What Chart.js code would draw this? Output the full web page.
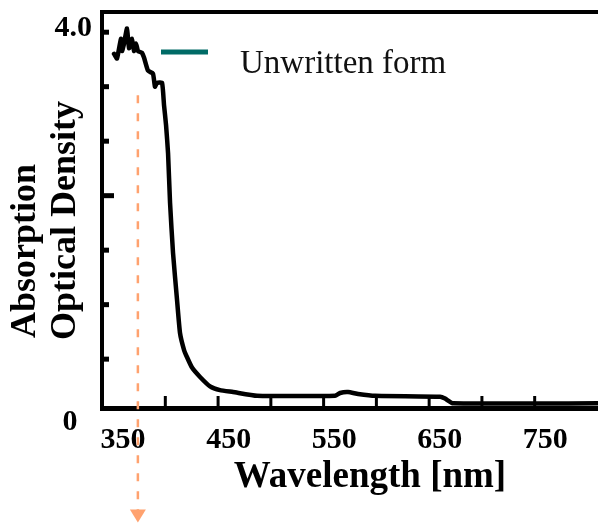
<!DOCTYPE html>
<html>
<head>
<meta charset="utf-8">
<script src="https://cdn.jsdelivr.net/npm/chart.js@4.4.1/dist/chart.umd.min.js"></script>
<style>
  html, body { margin: 0; padding: 0; background: #ffffff; }
  #wrap { width: 598px; height: 526px; }
</style>
</head>
<body>
<div id="wrap"><canvas id="chart" width="598" height="526"></canvas></div>
<script>
// Absorption spectrum (wavelength in nm, optical density)
const wavelengths = [341.4, 344.2, 348.0, 349.0, 350.9, 353.7, 355.6, 358.4, 360.3, 362.2,
  364.1, 367.9, 369.8, 373.6, 378.3, 380.2, 382.1, 386.9, 388.8, 390.7,
  392.6, 394.5, 397.3, 401.1, 403.9, 407.7, 410.6, 415.3, 422.9, 432.4,
  441.8, 454.2, 476.9, 550.9, 555.6, 563.2, 572.7, 588.8, 650.4, 655.1,
  662.7, 800.0];
const absorbance = [3.77, 3.72, 3.93, 3.80, 3.88, 4.04, 3.83, 3.93, 3.80, 3.88,
  3.80, 3.78, 3.73, 3.59, 3.56, 3.42, 3.46, 3.46, 3.22, 3.01,
  2.71, 2.18, 1.65, 1.15, 0.80, 0.62, 0.54, 0.43, 0.33, 0.23,
  0.19, 0.17, 0.13, 0.13, 0.16, 0.17, 0.15, 0.13, 0.12, 0.10,
  0.05, 0.05];

const seriesLabel = 'Unwritten form';
const xTickLabels = [350, 450, 550, 650, 750];
const xMinorTicks = [390, 440, 490, 540, 590, 640, 690, 740];
const yLabelValues = [4.0];
const yMinorTicks = [4.0, 3.42, 2.84, 2.26, 1.68, 1.10, 0.52];
const xTitle = 'Wavelength [nm]';
const yTitleLines = ['Absorption', 'Optical Density'];
// excitation marker: dashed arrow at this wavelength, from this OD downward
const markerWavelength = 364;
const markerFrom = 3.33;
const markerTo = -1.22;

const SERIF = '"Liberation Serif", "Times New Roman", serif';
const TEAL = '#006b66';
const ORANGE = '#ffa26f';

const decorations = {
  id: 'decorations',
  afterDraw(chart) {
    const { ctx, chartArea: a, scales: { x, y } } = chart;
    ctx.save();
    ctx.strokeStyle = '#000';
    ctx.lineCap = 'butt';

    // top frame
    ctx.lineWidth = 4;
    ctx.beginPath();
    ctx.moveTo(a.left - 2, a.top);
    ctx.lineTo(a.right, a.top);
    ctx.stroke();
    // close the lower-left corner
    ctx.lineWidth = 5;
    ctx.beginPath();
    ctx.moveTo(a.left - 2, a.bottom);
    ctx.lineTo(a.left + 2, a.bottom);
    ctx.stroke();

    // inward ticks on the y axis
    ctx.lineWidth = 5;
    yMinorTicks.forEach((v, i) => {
      const p = y.getPixelForValue(v);
      const len = i === 3 ? 12 : 7;
      ctx.beginPath();
      ctx.moveTo(a.left, p);
      ctx.lineTo(a.left + len, p);
      ctx.stroke();
    });

    // inward ticks on the x axis
    ctx.lineWidth = 3;
    xMinorTicks.forEach(v => {
      const p = x.getPixelForValue(v);
      ctx.beginPath();
      ctx.moveTo(p, a.bottom);
      ctx.lineTo(p, a.bottom - 12);
      ctx.stroke();
    });

    // origin label
    ctx.fillStyle = '#000';
    ctx.font = 'bold 30px ' + SERIF;
    ctx.textAlign = 'center';
    ctx.textBaseline = 'middle';
    ctx.fillText('0', a.left - 32, y.getPixelForValue(0) + 14);

    // axis titles
    ctx.font = 'bold 37px ' + SERIF;
    ctx.textAlign = 'center';
    ctx.textBaseline = 'alphabetic';
    ctx.fillText(xTitle, (a.left + a.right) / 2 + 20, 487);

    ctx.font = 'bold 36px ' + SERIF;
    ctx.textAlign = 'left';
    const yTitlePos = [[35, 338], [75, 340]];
    yTitleLines.forEach((t, i) => {
      ctx.save();
      ctx.translate(yTitlePos[i][0], yTitlePos[i][1]);
      ctx.rotate(-Math.PI / 2);
      ctx.fillText(t, 0, 0);
      ctx.restore();
    });

    // legend
    ctx.strokeStyle = TEAL;
    ctx.lineWidth = 5;
    ctx.beginPath();
    ctx.moveTo(161, 52);
    ctx.lineTo(208, 52);
    ctx.stroke();
    ctx.fillStyle = '#111';
    ctx.font = '33px ' + SERIF;
    ctx.textAlign = 'left';
    ctx.textBaseline = 'alphabetic';
    ctx.fillText(chart.data.datasets[0].label, 240, 73);

    // dashed excitation arrow
    const mx = x.getPixelForValue(markerWavelength);
    const y0 = y.getPixelForValue(markerFrom);
    const y1 = y.getPixelForValue(markerTo);
    ctx.strokeStyle = ORANGE;
    ctx.lineWidth = 2.5;
    ctx.setLineDash([8, 10]);
    ctx.beginPath();
    ctx.moveTo(mx, y0);
    ctx.lineTo(mx, y1 - 12);
    ctx.stroke();
    ctx.setLineDash([]);
    ctx.fillStyle = ORANGE;
    ctx.beginPath();
    ctx.moveTo(mx - 8, y1 - 13);
    ctx.lineTo(mx + 8, y1 - 13);
    ctx.lineTo(mx, y1);
    ctx.closePath();
    ctx.fill();

    ctx.restore();
  }
};

new Chart(document.getElementById('chart'), {
  type: 'line',
  data: {
    datasets: [{
      label: seriesLabel,
      data: wavelengths.map((w, i) => ({ x: w, y: absorbance[i] })),
      borderColor: '#000',
      borderWidth: 4.5,
      pointRadius: 0,
      tension: 0.15,
      borderJoinStyle: 'round',
      borderCapStyle: 'round',
      fill: false
    }]
  },
  options: {
    responsive: false,
    animation: false,
    devicePixelRatio: 1,
    layout: { padding: { top: 12, right: 0, left: 0, bottom: 0 } },
    plugins: { legend: { display: false }, tooltip: { enabled: false } },
    scales: {
      x: {
        type: 'linear',
        min: 330,
        max: 800,
        afterFit(s) {
          s.height = 118;
          s.paddingLeft = 0; s.paddingRight = 0;
        },
        afterBuildTicks(s) { s.ticks = xTickLabels.map(v => ({ value: v })); },
        grid: { display: false, drawTicks: false },
        border: { display: true, color: '#000', width: 5 },
        ticks: {
          color: '#000',
          padding: 14,
          maxRotation: 0,
          autoSkip: false,
          font: { family: SERIF, size: 30, weight: 'bold' },
          callback: v => String(v)
        }
      },
      y: {
        type: 'linear',
        min: 0,
        max: 4.215,
        afterFit(s) {
          s.width = 102;
          s.paddingTop = 0; s.paddingBottom = 0;
        },
        afterBuildTicks(s) { s.ticks = yLabelValues.map(v => ({ value: v })); },
        grid: { display: false, drawTicks: false },
        border: { display: true, color: '#000', width: 4 },
        ticks: {
          color: '#000',
          padding: 10,
          labelOffset: -4,
          font: { family: SERIF, size: 30, weight: 'bold' },
          callback: v => v.toFixed(1)
        }
      }
    }
  },
  plugins: [decorations]
});
</script>
</body>
</html>
